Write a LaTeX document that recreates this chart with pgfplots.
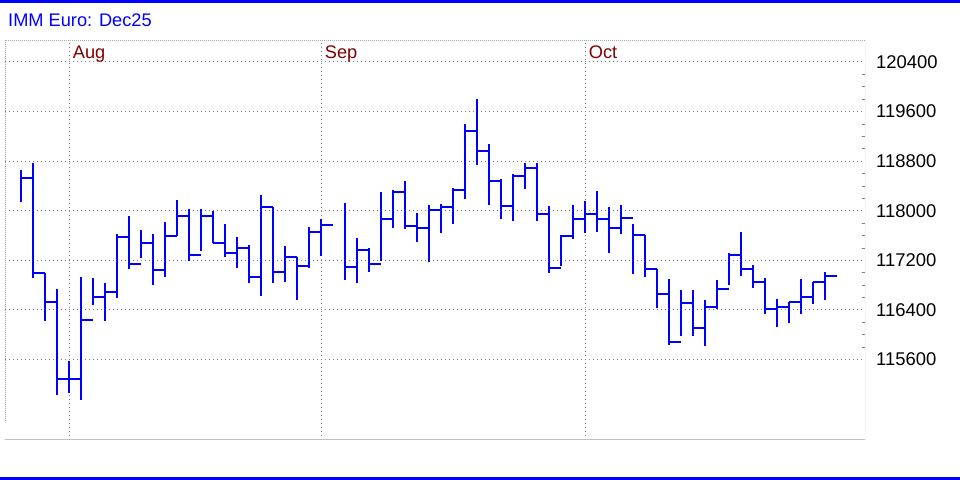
\documentclass[border=0pt]{standalone}
\usepackage{pgfplots}
\usepackage{pgfplotstable}
\pgfplotsset{compat=1.18}
\usepackage{fontspec}
\setmainfont{Liberation Sans}
\definecolor{barblue}{HTML}{0000FF}
\definecolor{monthred}{HTML}{800000}
\definecolor{gridgray}{HTML}{808080}
\definecolor{framegray}{HTML}{C0C0C0}
\definecolor{lightdot}{HTML}{A8A8A8}
\pgfplotstableread{
i h l c
0 118660 118137 118531
1 118773 116909 117001
2 117001 116225 116527
3 116731 115034 115288
4 115573 115061 115288
5 116931 114954 116236
6 116915 116473 116613
7 116834 116225 116688
8 117620 116597 117577
9 117917 117055 117141
10 117690 117243 117486
11 117630 116809 117037
12 117820 116934 117597
13 118169 117597 117913
14 118022 117184 117287
15 118022 117347 117913
16 117989 117472 117472
17 117793 117260 117325
18 117576 117070 117402
19 117445 116841 116934
20 118250 116624 118060
21 118060 116841 117015
22 117438 116849 117249
23 117249 116557 117103
24 117741 117081 117659
25 117859 117276 117768
27 118119 116876 117087
28 117568 116827 117368
29 117395 117005 117146
30 118297 117195 117865
31 118341 117719 118303
32 118486 117708 117746
33 117962 117495 117715
34 118091 117173 118005
35 118107 117635 118054
36 118365 117785 118327
37 119401 118188 119294
38 119804 118736 118956
39 119079 118086 118472
40 118510 117860 118070
41 118591 117828 118553
42 118773 118349 118682
43 118773 117828 117941
44 118075 116996 117071
45 117601 117106 117591
46 118086 117548 117865
47 118151 117639 117952
48 118312 117655 117865
49 118065 117316 117714
50 118086 117623 117876
51 117790 116976 117612
52 117612 116928 117057
53 117057 116427 116664
54 116906 115834 115888
55 116729 115975 116519
56 116725 115979 116107
57 116565 115819 116453
58 116885 116416 116741
59 117312 116795 117291
60 117653 116939 117061
61 117120 116747 116843
62 116912 116331 116421
63 116576 116123 116453
64 116523 116187 116523
65 116901 116331 116603
66 116853 116491 116843
67 117013 116555 116949
}\bars
\begin{document}
\begin{tikzpicture}[x=1bp,y=1bp]
\useasboundingbox (0,0) rectangle (960,480);
\fill[barblue] (0,477) rectangle (960,480);
\fill[barblue] (0,0) rectangle (960,3);
\node[anchor=base west, inner sep=0pt, text=barblue, font=\fontsize{18.3}{20}\selectfont] at (8,453.3) {IMM Euro: Dec25};
\begin{axis}[
  at={(5bp,40bp)}, anchor=south west,
  scale only axis, width=860bp, height=400bp,
  xmin=-1.3333, xmax=70.3333, ymin=114301, ymax=120755,
  axis line style={draw=none},
  scaled y ticks=false,
  xtick={4,25,47}, xticklabels={},
  ytick={115600,116400,117200,118000,118800,119600,120400},
  yticklabels={115600,116400,117200,118000,118800,119600,120400},
  minor y tick num=3,
  ytick pos=right, yticklabel pos=right,
  tick align=inside,
  major tick length=0pt, minor tick length=3bp,
  minor tick style={gridgray, line width=0.8bp},
  xmajorgrids, ymajorgrids,
  major grid style={gridgray, line width=1bp, dash pattern=on 1bp off 3bp},
  yticklabel style={anchor=west, inner sep=0pt, xshift=11bp, font=\fontsize{18.5}{20}\selectfont, text=black},
  /pgf/number format/assume math mode=true,
]
\draw[framegray, line width=1bp] (rel axis cs:0,0) -- (rel axis cs:1,0) -- (rel axis cs:1,1);
\draw[lightdot, line width=0.8bp, dash pattern=on 1bp off 1bp] (rel axis cs:0,0.0475) -- (rel axis cs:0,1) -- (rel axis cs:1,1);
\addplot[draw=none, mark=none,
  error bars/.cd, y dir=plus, y explicit, error mark=none,
  error bar style={draw=barblue, line width=2bp, line cap=butt}]
  table[x=i, y=l, y error expr=\thisrow{h}-\thisrow{l}] {\bars};
\addplot[draw=none, mark=none,
  error bars/.cd, x dir=plus, x fixed=1, error mark=none,
  error bar style={draw=barblue, line width=2bp, line cap=butt}]
  table[x=i, y=c] {\bars};
\node[anchor=north west, inner sep=0pt, text=monthred, font=\fontsize{18.3}{20}\selectfont, xshift=3.7bp, yshift=-6bp] at (axis cs:4,120755) {Aug};
\node[anchor=north west, inner sep=0pt, text=monthred, font=\fontsize{18.3}{20}\selectfont, xshift=3.7bp, yshift=-6bp] at (axis cs:25,120755) {Sep};
\node[anchor=north west, inner sep=0pt, text=monthred, font=\fontsize{18.3}{20}\selectfont, xshift=3.7bp, yshift=-6bp] at (axis cs:47,120755) {Oct};
\end{axis}
\end{tikzpicture}
\end{document}
